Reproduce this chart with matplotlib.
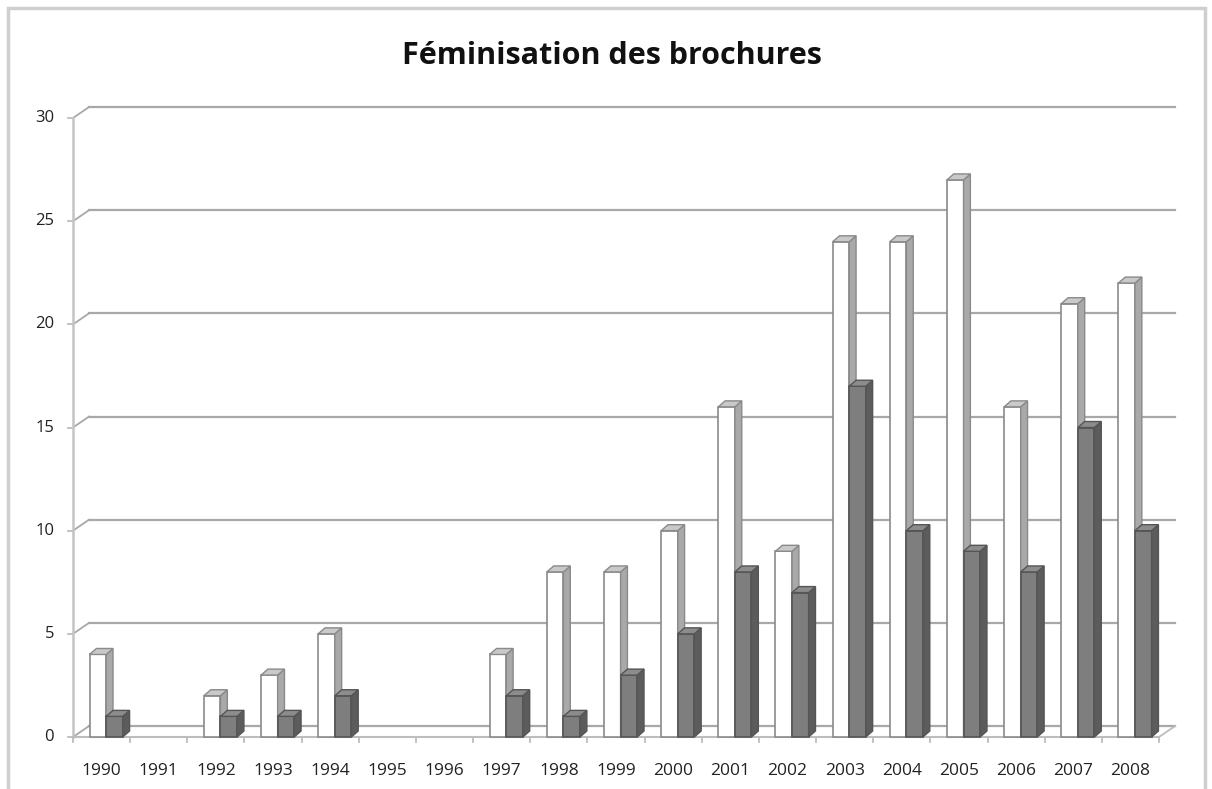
import matplotlib.pyplot as plt
from matplotlib.patches import Polygon, Rectangle
import numpy as np

years = ['1990', '1991', '1992', '1993', '1994', '1995', '1996', '1997', '1998', '1999',
         '2000', '2001', '2002', '2003', '2004', '2005', '2006', '2007', '2008']
serie_blanche = [4, 0, 2, 3, 5, 0, 0, 4, 8, 8, 10, 16, 9, 24, 24, 27, 16, 21, 22]
serie_grise = [1, 0, 1, 1, 2, 0, 0, 2, 1, 3, 5, 8, 7, 17, 10, 9, 8, 15, 10]
yticks = [0, 5, 10, 15, 20, 25, 30]

W, H = 1212, 789
fig = plt.figure(figsize=(W / 100, H / 100), dpi=100)
fig.patches.append(Rectangle((8 / W, -0.05), (1205 - 8) / W, 1.05 - 8 / H,
                             transform=fig.transFigure, fill=False,
                             edgecolor='#cfcfcf', linewidth=2.5))

ax = fig.add_axes([73 / W, 52 / H, 1086 / W, 619 / H])
ax.set_xlim(-0.5, 18.5)
ax.set_ylim(0, 30)
ax.axis('off')

# depth offsets (data units)
WX, WY = 0.28, 0.53   # back wall
BX, BY = 0.12, 0.29   # bar depth
grid_c = '#a8a8a8'

# back wall grid + left wall diagonals
for v in yticks:
    ax.plot([-0.5 + WX, 18.5 + WX], [v + WY, v + WY], color=grid_c, lw=1.6,
            clip_on=False, zorder=1)
    ax.plot([-0.5, -0.5 + WX], [v, v + WY], color=grid_c, lw=1.3, clip_on=False, zorder=1)
    ax.plot([-0.5 - 0.09, -0.5], [v, v], color='#bdbdbd', lw=1.3, clip_on=False, zorder=1)
    ax.text(-0.5 - 0.33, v, str(v), ha='right', va='center', fontsize=12,
            family='Open Sans', color='#222222')
# front left axis
ax.plot([-0.5, -0.5], [0, 30], color='#c4c4c4', lw=1.8, clip_on=False, zorder=1)
# floor
ax.plot([-0.5, 18.5], [0, 0], color='#bdbdbd', lw=1.5, clip_on=False, zorder=1)
ax.plot([18.5, 18.5 + WX], [0, WY], color='#bdbdbd', lw=1.3, clip_on=False, zorder=1)
for i in range(20):
    ax.plot([i - 0.5, i - 0.5], [0, -0.25], color='#bdbdbd', lw=1.3, clip_on=False, zorder=1)
for i, y in enumerate(years):
    ax.text(i, -1.65, y, ha='center', va='center', fontsize=12.5,
            family='Open Sans', color='#222222')


def bar3d(x0, w, h, front, side, top, edge, z):
    ax.bar(x0, h, width=w, align='edge', color=front, edgecolor=edge,
           linewidth=1.2, zorder=z, clip_on=False)
    ax.add_patch(Polygon([(x0 + w, 0), (x0 + w + BX, BY), (x0 + w + BX, h + BY), (x0 + w, h)],
                         closed=True, facecolor=side, edgecolor=edge, lw=1.0,
                         zorder=z, clip_on=False))
    ax.add_patch(Polygon([(x0, h), (x0 + BX, h + BY), (x0 + w + BX, h + BY), (x0 + w, h)],
                         closed=True, facecolor=top, edgecolor=edge, lw=1.0,
                         zorder=z, clip_on=False))


bw = 0.29
for i in range(len(years)):
    if serie_blanche[i] > 0:
        bar3d(i - 0.21, bw, serie_blanche[i], 'white', '#a9a9a9', '#c9c9c9', '#8a8a8a', 3 + 2 * i)
    if serie_grise[i] > 0:
        bar3d(i + 0.08, bw, serie_grise[i], '#7e7e7e', '#5c5c5c', '#8c8c8c', '#555555', 4 + 2 * i)

fig.text(612 / W, 1 - 56 / H, 'Féminisation des brochures', ha='center', va='center',
         fontsize=22, fontweight='bold', family='Open Sans', color='#111111')

fig.savefig('out.png', dpi=100)
